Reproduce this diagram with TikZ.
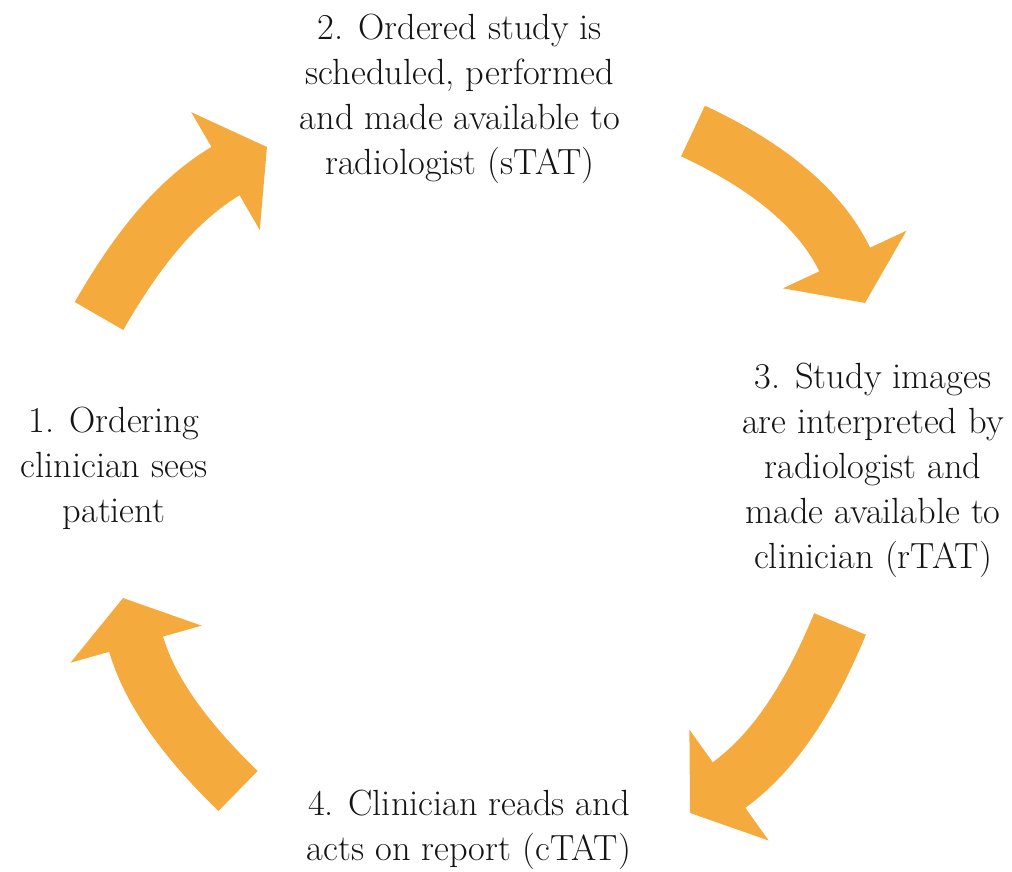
\documentclass[tikz,border=0pt]{standalone}
\usepackage{fontspec}
\usetikzlibrary{arrows.meta}
\definecolor{cycorange}{RGB}{245,170,62}
\definecolor{steptext}{RGB}{20,20,20}
\begin{document}
\begin{tikzpicture}[x=0.5pt, y=0.5pt,
  steplabel/.style={align=center, inner sep=0pt, text=steptext,
    font=\fontsize{18.2}{22.5}\selectfont},
  cycarrow/.style={draw=cycorange, line width=28pt,
    -{Triangle[width=67pt, length=24pt]}}]
\useasboundingbox (0,0) rectangle (1012,872);
% the four steps
\node[steplabel] (step1) at (114,404) {1. Ordering\\clinician sees\\patient};
\node[steplabel] (step2) at (460,773) {2. Ordered study is\\scheduled, performed\\and made available to\\radiologist (sTAT)};
\node[steplabel] (step3) at (873,402) {3. Study images\\are interpreted by\\radiologist and\\made available to\\clinician (rTAT)};
\node[steplabel] (step4) at (469,42) {4. Clinician reads and\\acts on report (cTAT)};
% arrow ends
\coordinate (tail1) at (99,556);  \coordinate (tip1) at (267,725);
\coordinate (tail2) at (693,741); \coordinate (tip2) at (865,569);
\coordinate (tail3) at (840,248); \coordinate (tip3) at (690,59);
\coordinate (tail4) at (238,81);  \coordinate (tip4) at (123,274);
% the cycle
\draw[cycarrow] (tail1) to[bend left=15] (tip1);
\draw[cycarrow] (tail2) to[bend left=20] (tip2);
\draw[cycarrow] (tail3) to[bend left=16] (tip3);
\draw[cycarrow] (tail4) to[bend left=15] (tip4);
\end{tikzpicture}
\end{document}
